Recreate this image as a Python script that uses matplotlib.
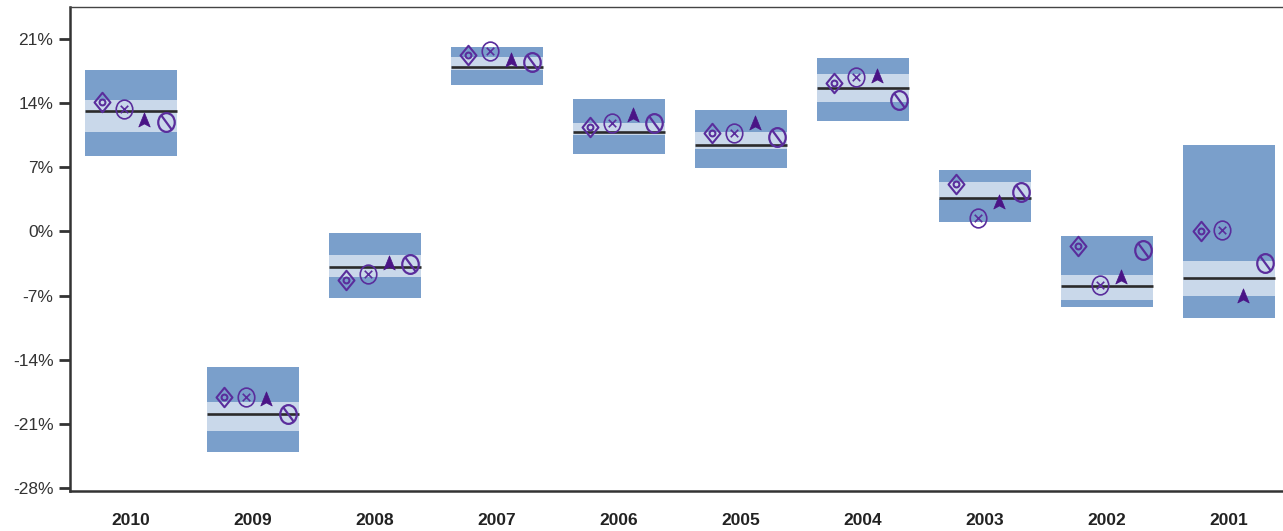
import numpy as np
import matplotlib.pyplot as plt
from matplotlib.path import Path

plt.rcParams['font.family'] = ['Liberation Sans', 'DejaVu Sans']

# calendar-year return ranges (percent)
years = ['2010', '2009', '2008', '2007', '2006', '2005', '2004', '2003', '2002', '2001']
p95 = [17.6, -14.85, -0.2, 20.1, 14.5, 13.2, 18.9, 6.7, -0.45, 9.4]
p75 = [14.3, -18.6, -2.6, 19.0, 11.8, 10.8, 17.2, 5.35, -4.8, -3.2]
median = [13.1, -19.9, -3.9, 17.9, 10.9, 9.4, 15.7, 3.7, -6.0, -5.1]
p25 = [10.8, -21.8, -5.0, 17.6, 10.5, 9.0, 14.1, 3.5, -7.5, -7.0]
p5 = [8.2, -24.1, -7.3, 16.0, 8.5, 6.9, 12.1, 1.0, -8.3, -9.4]

# individual series plotted over the ranges
fund_a = [14.1, -18.1, -5.35, 19.2, 11.35, 10.7, 16.2, 5.2, -1.55, 0.1]
fund_b = [13.4, -18.1, -4.6, 19.7, 11.8, 10.7, 16.9, 1.5, -5.9, 0.2]
fund_c = [12.2, -18.3, -3.4, 18.7, 12.7, 11.8, 17.0, 3.2, -5.0, -7.0]
fund_d = [11.9, -19.9, -3.6, 18.5, 11.8, 10.3, 14.3, 4.3, -2.05, -3.5]

yticks = [21, 14, 7, 0, -7, -14, -21, -28]


def ellipse(rx=0.88):
    c = Path.unit_circle()
    return Path(c.vertices * [rx, 1.0], c.codes)


def diamond_dot():
    outer = Path([(0, 1), (0.82, 0), (0, -1), (-0.82, 0), (0, 1)],
                 [Path.MOVETO, Path.LINETO, Path.LINETO, Path.LINETO, Path.CLOSEPOLY])
    c = Path.unit_circle()
    inner = Path(c.vertices * 0.3, c.codes)
    return Path.make_compound_path(outer, inner)


def circle_x():
    a = 0.4
    cross = Path([(-a, a), (a, -a), (-a, -a), (a, a)],
                 [Path.MOVETO, Path.LINETO, Path.MOVETO, Path.LINETO])
    return Path.make_compound_path(ellipse(), cross)


def circle_slash():
    slash = Path([(-0.55, 0.75), (0.55, -0.75)], [Path.MOVETO, Path.LINETO])
    return Path.make_compound_path(ellipse(), slash)


arrow_up = Path([(0, 1), (0.75, -0.85), (0, -0.45), (-0.75, -0.85), (0, 1)],
                [Path.MOVETO, Path.LINETO, Path.LINETO, Path.LINETO, Path.CLOSEPOLY])

dark_band = '#7a9fcb'
light_band = '#c9d8ea'
purple = '#5a2d9c'

fig = plt.figure(figsize=(12.83, 5.31), dpi=100)
ax = fig.add_axes([0.0546, 0.0753, 0.951, 0.9115])

x = np.arange(len(years))
w = 0.755
p95a, p75a, meda, p25a, p5a = map(np.array, (p95, p75, median, p25, p5))
ax.bar(x, p95a - p5a, bottom=p5a, width=w, color=dark_band, zorder=2)
ax.bar(x, p75a - p25a, bottom=p25a, width=w, color=light_band, zorder=3)
ax.hlines(meda, x - w / 2, x + w / 2, color='#2b2b2b', lw=1.9, zorder=4)

ax.plot(x - 0.235, fund_a, ls='none', marker=diamond_dot(), ms=14, mfc='none',
        mec=purple, mew=1.5, zorder=5)
ax.plot(x - 0.06, fund_b, ls='none', marker=circle_x(), ms=13.5, mfc='none',
        mec=purple, mew=1.2, zorder=5)
ax.plot(x + 0.11, fund_c, ls='none', marker=arrow_up, ms=11, mfc='#4a1486',
        mec='#4a1486', mew=0.5, zorder=5)
ax.plot(x + 0.29, fund_d, ls='none', marker=circle_slash(), ms=13.5, mfc='none',
        mec=purple, mew=1.6, zorder=5)

ax.set_xlim(-0.5, 9.5)
ax.set_ylim(-28.33, 24.49)
ax.set_yticks(yticks)
ax.set_yticklabels([f'{t}%' for t in yticks])
ax.set_xticks(x)
ax.set_xticklabels(years, fontweight='bold')

ax.tick_params(axis='y', length=8, width=2, color='#333333', labelsize=12.5,
               labelcolor='#333333', pad=4)
ax.tick_params(axis='x', length=0, labelsize=12.5, labelcolor='#222222', pad=16)

for side in ('left', 'bottom'):
    ax.spines[side].set_linewidth(1.8)
    ax.spines[side].set_color('#333333')
ax.spines['top'].set_linewidth(1.0)
ax.spines['top'].set_color('#444444')
ax.spines['right'].set_visible(False)

fig.savefig('out.png', dpi=100)
